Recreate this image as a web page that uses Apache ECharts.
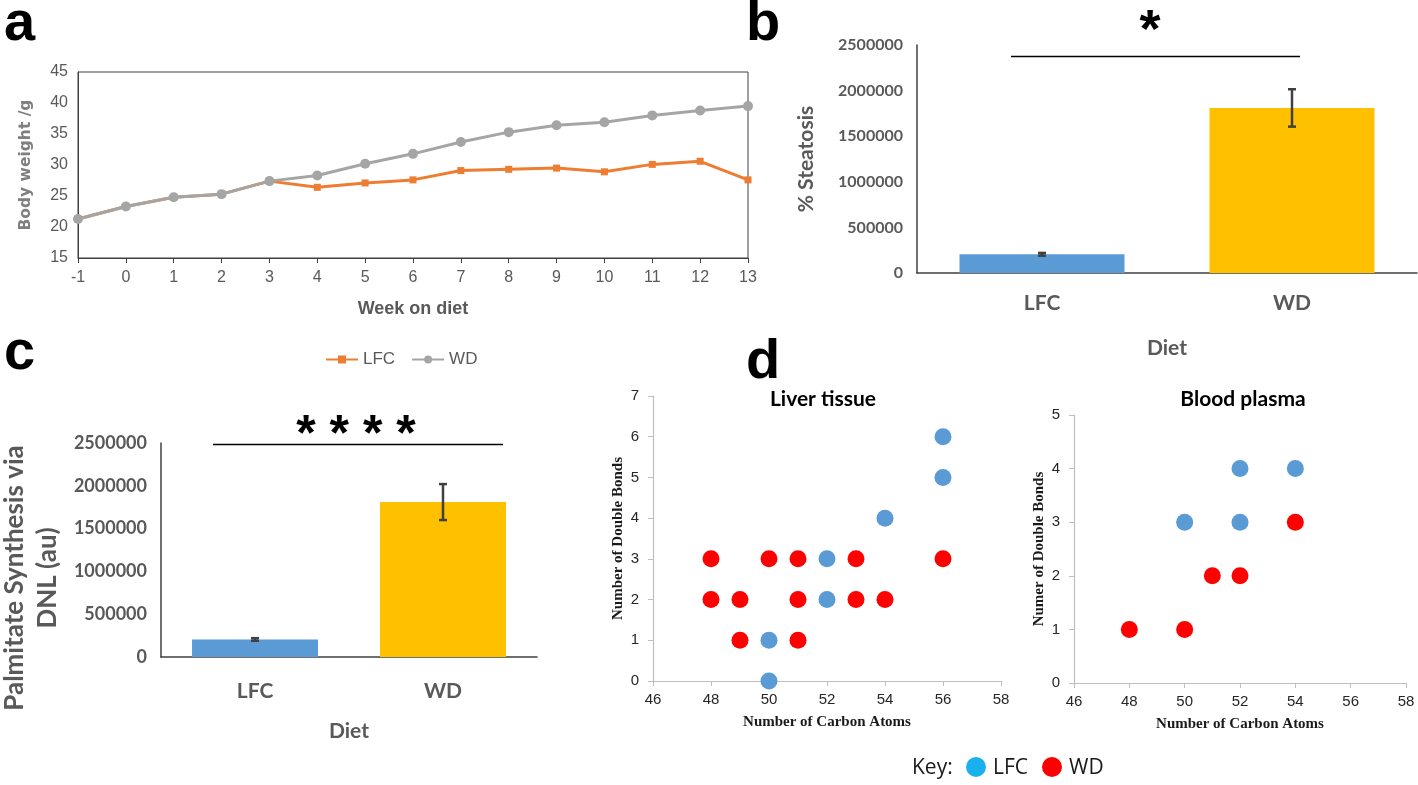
<!DOCTYPE html>
<html>
<head>
<meta charset="utf-8">
<script src="https://cdn.jsdelivr.net/npm/echarts@6/dist/echarts.min.js"></script>
<style>
html,body{margin:0;padding:0;background:#fff;}
#chart{width:1418px;height:785px;}
</style>
</head>
<body>
<div id="chart"></div>
<script>
// ---- data ----
const weeks = [-1,0,1,2,3,4,5,6,7,8,9,10,11,12,13];
const lfcWeight = [21.3,23.3,24.8,25.3,27.4,26.4,27.1,27.6,29.1,29.3,29.5,28.9,30.1,30.6,27.6];
const wdWeight  = [21.3,23.3,24.8,25.3,27.4,28.3,30.2,31.8,33.7,35.3,36.4,36.9,38.0,38.8,39.5];

const dietGroups = ['LFC','WD'];
const steatosisMean = [205000, 1810000];
const steatosisErr  = [15000, 205000];
const dnlMean = [205000, 1810000];
const dnlErr  = [15000, 210000];

const liverLFC = [[50,0],[50,1],[52,2],[52,3],[54,4],[56,5],[56,6]];
const liverWD  = [[48,3],[48,2],[49,2],[49,1],[50,3],[51,3],[51,2],[51,1],[53,3],[53,2],[54,2],[56,3]];
const plasmaLFC = [[50,3],[52,3],[52,4],[54,4]];
const plasmaWD  = [[48,1],[50,1],[51,2],[52,2],[54,3]];

// ---- styles ----
const SANS = "'Liberation Sans Narrow','Liberation Sans',Arial,sans-serif";
const CAL = "Lato,'Open Sans',sans-serif";
const SERIF = "'Liberation Serif','DejaVu Serif',serif";
const GREY = '#595959';
const BLUE = '#5B9BD5', GOLD = '#FFC000', ORANGE = '#ED7D31', LGREY = '#A5A5A5', RED = '#FF0000';
const plain = v => String(v);

function errRender(params, api){
  const x = api.value(0), v = api.value(1), e = api.value(2);
  const top = api.coord([x, v + e]);
  const bot = api.coord([x, v - e]);
  const w = 4;
  const st = {stroke:'#404040', lineWidth:2.5};
  return {type:'group', children:[
    {type:'line', shape:{x1:top[0],y1:top[1],x2:bot[0],y2:bot[1]}, style:st},
    {type:'line', shape:{x1:top[0]-w,y1:top[1],x2:top[0]+w,y2:top[1]}, style:st},
    {type:'line', shape:{x1:bot[0]-w,y1:bot[1],x2:bot[0]+w,y2:bot[1]}, style:st}
  ]};
}

function barXAxis(gi, labelMargin, nameGap){
  return {gridIndex:gi, type:'category', data:dietGroups,
    axisLine:{lineStyle:{color:'#404040', width:1.5}}, axisTick:{show:false},
    axisLabel:{color:GREY, fontFamily:CAL, fontWeight:'bold', fontSize:21, margin:labelMargin},
    name:'Diet', nameLocation:'middle', nameGap:nameGap,
    nameTextStyle:{color:GREY, fontFamily:CAL, fontWeight:'bold', fontSize:21}};
}
function barYAxis(gi, fs, name, nameGap, nameFs){
  return {gridIndex:gi, type:'value', min:0, max:2500000, interval:500000,
    axisLine:{show:true, lineStyle:{color:'#404040', width:1.5}}, axisTick:{show:false},
    splitLine:{show:false},
    axisLabel:{color:GREY, fontFamily:CAL, fontWeight:'bold', fontSize:fs, margin:14, formatter:plain},
    name:name, nameLocation:'middle', nameGap:nameGap,
    nameTextStyle:{color:GREY, fontFamily:CAL, fontWeight:'bold', fontSize:nameFs}};
}
function scatX(gi){
  return {gridIndex:gi, type:'value', min:46, max:58, interval:2,
    axisLine:{onZero:false, lineStyle:{color:'#BFBFBF', width:1.2}}, axisTick:{show:true, length:5, lineStyle:{color:'#BFBFBF'}},
    splitLine:{show:false},
    axisLabel:{color:'#262626', fontFamily:SANS, fontSize:15, margin:11},
    name:'Number of Carbon Atoms', nameLocation:'middle', nameGap:34,
    nameTextStyle:{color:'#1a1a1a', fontFamily:SERIF, fontWeight:'bold', fontSize:15}};
}
function scatY(gi, max, name){
  return {gridIndex:gi, type:'value', min:0, max:max, interval:1,
    axisLine:{show:true, onZero:false, lineStyle:{color:'#BFBFBF', width:1.2}}, axisTick:{show:true, length:5, lineStyle:{color:'#BFBFBF'}},
    splitLine:{show:false},
    axisLabel:{color:'#262626', fontFamily:SANS, fontSize:15, margin:14},
    name:name, nameLocation:'middle', nameGap:27,
    nameTextStyle:{color:'#1a1a1a', fontFamily:SERIF, fontWeight:'bold', fontSize:15}};
}

const chart = echarts.init(document.getElementById('chart'));
const option = {
  backgroundColor:'#fff',
  animation:false,
  title:[
    {text:'Liver tissue', left:818, top:384, textAlign:'center',
     textStyle:{fontFamily:CAL, fontWeight:'bold', fontSize:21, color:'#000'}},
    {text:'Blood plasma', left:1238, top:384, textAlign:'center',
     textStyle:{fontFamily:CAL, fontWeight:'bold', fontSize:21, color:'#000'}}
  ],
  legend:{show:true, data:['LFC','WD'], left:320, top:346, itemWidth:32, itemHeight:10, itemGap:16,
    textStyle:{color:GREY, fontFamily:SANS, fontSize:17}},
  grid:[
    {left:78, top:72, width:670, height:186, show:true, borderColor:'#404040', borderWidth:1},
    {left:917, top:45, width:500, height:228},
    {left:161, top:443, width:376, height:214},
    {left:653, top:396, width:348, height:285},
    {left:1074, top:415, width:332, height:268}
  ],
  xAxis:[
    {gridIndex:0, type:'value', min:-1, max:13, interval:1,
     axisLine:{onZero:false, lineStyle:{color:'#404040'}}, axisTick:{show:true, length:5, lineStyle:{color:'#404040'}},
     splitLine:{show:false},
     axisLabel:{color:GREY, fontFamily:SANS, fontSize:16, margin:12},
     name:'Week on diet', nameLocation:'middle', nameGap:42,
     nameTextStyle:{color:GREY, fontFamily:SANS, fontWeight:'bold', fontSize:18}},
    barXAxis(1, 20, 65),
    barXAxis(2, 24, 64),
    scatX(3),
    scatX(4)
  ],
  yAxis:[
    {gridIndex:0, type:'value', min:15, max:45, interval:5,
     axisLine:{show:true, onZero:false, lineStyle:{color:'#404040'}}, axisTick:{show:false},
     splitLine:{show:false},
     axisLabel:{color:GREY, fontFamily:SANS, fontSize:16, margin:10},
     name:'Body weight /g', nameLocation:'middle', nameGap:44,
     nameTextStyle:{color:'#7F7F7F', fontFamily:"'DejaVu Sans',sans-serif", fontWeight:'bold', fontSize:15.5}},
    barYAxis(1, 16, '% Steatosis', 100, 21),
    barYAxis(2, 18, '', 0, 24),
    scatY(3, 7, 'Number of Double Bonds'),
    scatY(4, 5, 'Numer of Double Bonds')
  ],
  series:[
    {name:'LFC', type:'line', xAxisIndex:0, yAxisIndex:0,
     data:weeks.map((w,i)=>[w, lfcWeight[i]]),
     lineStyle:{color:ORANGE, width:3}, itemStyle:{color:ORANGE},
     symbol:'rect', symbolSize:7, z:2},
    {name:'WD', type:'line', xAxisIndex:0, yAxisIndex:0,
     data:weeks.map((w,i)=>[w, wdWeight[i]]),
     lineStyle:{color:LGREY, width:3}, itemStyle:{color:LGREY},
     symbol:'circle', symbolSize:10, z:3},

    {name:'Steatosis', type:'bar', xAxisIndex:1, yAxisIndex:1, barCategoryGap:'34%',
     data:steatosisMean.map((v,i)=>({value:v, itemStyle:{color:i===0?BLUE:GOLD}}))},
    {name:'Steatosis err', type:'custom', xAxisIndex:1, yAxisIndex:1, renderItem:errRender,
     encode:{x:0,y:1}, data:steatosisMean.map((v,i)=>[i, v, steatosisErr[i]]), z:5},

    {name:'DNL', type:'bar', xAxisIndex:2, yAxisIndex:2, barCategoryGap:'33%',
     data:dnlMean.map((v,i)=>({value:v, itemStyle:{color:i===0?BLUE:GOLD}}))},
    {name:'DNL err', type:'custom', xAxisIndex:2, yAxisIndex:2, renderItem:errRender,
     encode:{x:0,y:1}, data:dnlMean.map((v,i)=>[i, v, dnlErr[i]]), z:5},

    {name:'Liver LFC', type:'scatter', xAxisIndex:3, yAxisIndex:3, data:liverLFC, symbolSize:17, itemStyle:{color:BLUE, opacity:1}},
    {name:'Liver WD', type:'scatter', xAxisIndex:3, yAxisIndex:3, data:liverWD, symbolSize:17, itemStyle:{color:RED, opacity:1}},
    {name:'Plasma LFC', type:'scatter', xAxisIndex:4, yAxisIndex:4, data:plasmaLFC, symbolSize:17, itemStyle:{color:BLUE, opacity:1}},
    {name:'Plasma WD', type:'scatter', xAxisIndex:4, yAxisIndex:4, data:plasmaWD, symbolSize:17, itemStyle:{color:RED, opacity:1}}
  ],
  graphic:[
    {type:'text', left:4, top:-3, style:{text:'a', fontFamily:"'Liberation Sans',Arial,sans-serif", fontWeight:'bold', fontSize:56, fill:'#000'}},
    {type:'text', left:746, top:-3, style:{text:'b', fontFamily:"'Liberation Sans',Arial,sans-serif", fontWeight:'bold', fontSize:56, fill:'#000'}},
    {type:'text', left:4, top:326, style:{text:'c', fontFamily:"'Liberation Sans',Arial,sans-serif", fontWeight:'bold', fontSize:56, fill:'#000'}},
    {type:'text', left:746, top:335, style:{text:'d', fontFamily:"'Liberation Sans',Arial,sans-serif", fontWeight:'bold', fontSize:56, fill:'#000'}},
    // y title c (two lines)
    {type:'text', x:31, y:578, rotation:Math.PI/2,
     style:{text:'Palmitate Synthesis via\nDNL (au)', fontFamily:CAL, fontWeight:'bold', fontSize:26, lineHeight:33, fill:GREY, align:'center', verticalAlign:'middle'}},
    // significance b
    {type:'line', shape:{x1:1011,y1:56.5,x2:1300,y2:56.5}, style:{stroke:'#000', lineWidth:1.5}},
    {type:'text', x:1150, y:32, style:{text:'*', fontFamily:"'Liberation Sans',Arial,sans-serif", fontWeight:'bold', fontSize:54, fill:'#000', align:'center', verticalAlign:'middle'}},
    // significance c
    {type:'line', shape:{x1:213,y1:444.5,x2:503,y2:444.5}, style:{stroke:'#000', lineWidth:1.5}},
    {type:'text', x:356, y:436, style:{text:'* * * *', fontFamily:"'Liberation Sans',Arial,sans-serif", fontWeight:'bold', fontSize:50, fill:'#000', align:'center', verticalAlign:'middle'}},
    // key
    {type:'text', x:912, y:768, style:{text:'Key:', fontFamily:"'Open Sans',sans-serif", fontSize:21, fill:'#1a1a1a', align:'left', verticalAlign:'middle'}},
    {type:'circle', shape:{cx:976, cy:767, r:10}, style:{fill:'#1AB0EE'}},
    {type:'text', x:993, y:768, style:{text:'LFC', fontFamily:"'Open Sans',sans-serif", fontSize:21, fill:'#1a1a1a', align:'left', verticalAlign:'middle'}},
    {type:'circle', shape:{cx:1052, cy:767, r:10}, style:{fill:RED}},
    {type:'text', x:1069, y:768, style:{text:'WD', fontFamily:"'Open Sans',sans-serif", fontSize:21, fill:'#1a1a1a', align:'left', verticalAlign:'middle'}}
  ]
};
chart.setOption(option);
</script>
</body>
</html>
